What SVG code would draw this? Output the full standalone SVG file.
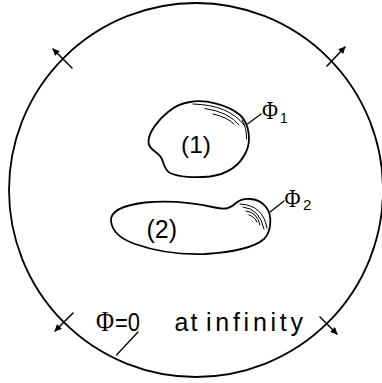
<svg xmlns="http://www.w3.org/2000/svg" width="382" height="383" viewBox="0 0 382 383">
  <style>
    .ln { fill: none; stroke: #000; stroke-linecap: round; stroke-linejoin: round; }
    .outline { stroke-width: 1.8; }
    .hatch { stroke-width: 1; }
    .sans { font-family: "Liberation Sans", Arial, sans-serif; fill: #000; }
    .phi { font-family: "Liberation Serif", "Times New Roman", serif; fill: #000; }
  </style>
  <defs>
    <marker id="ah" viewBox="0 0 10 10" refX="9" refY="5" markerWidth="8" markerHeight="7" markerUnits="userSpaceOnUse" orient="auto">
      <path d="M0,0 L10,5 L0,10 Z" fill="#000"/>
    </marker>
  </defs>
  <rect width="382" height="383" fill="#fff"/>

  <g id="boundary">
    <circle class="ln" cx="196" cy="190" r="187" stroke-width="1.8"/>
  </g>

  <g id="body1">
    <path class="ln outline" d="M190,102 C205,99 228,105 240,115 C250,124 251,142 246,152 C240,165 228,174 210,176.5 C195,178 178,177 170,173 C163,169 164,160 160,156 C156,151 148,149 148.5,141 C149,132 158,120 168,112 C175,106 182,103 190,102 Z"/>
    <path class="ln hatch" d="M193,104 Q229,105 244,125"/>
    <path class="ln hatch" d="M205,108.5 Q229,112 239,125"/>
    <path class="ln hatch" d="M213,114 Q227,117 234,124"/>
    <path class="ln hatch" d="M242,120 Q247,128 246.5,139"/>
    <text class="sans" x="181" y="153" font-size="24.5">(1)</text>
  </g>

  <g id="body2">
    <path class="ln outline" d="M111,221 C110,210 125,205 145,202.5 C170,200 195,203 215,207.5 C226,210 231,208 236,203 C243,197 258,197 266,207 C273,216 271,232 264,239 C255,247 235,252 205,254 C180,255 155,251 135,244 C118,238 112,230 111,221 Z"/>
    <path class="ln hatch" d="M240,204 Q263,205 267,228"/>
    <path class="ln hatch" d="M243,207 Q260,209 264,229"/>
    <path class="ln hatch" d="M246,211 Q257,212 260,225"/>
    <path class="ln hatch" d="M249,215 Q255,217 257,222"/>
    <text class="sans" x="146.5" y="238" font-size="25">(2)</text>
  </g>

  <g id="label-phi1">
    <text class="phi" x="262" y="119" font-size="25" textLength="16" lengthAdjust="spacingAndGlyphs">Φ</text>
    <text class="sans" x="280" y="122.5" font-size="14">1</text>
  </g>

  <g id="label-phi2">
    <text class="phi" x="284.5" y="207" font-size="26" textLength="16" lengthAdjust="spacingAndGlyphs">Φ</text>
    <text class="sans" x="303" y="209.5" font-size="15">2</text>
  </g>

  <g id="label-infinity">
    <text class="sans" y="330.5" font-size="25"><tspan class="phi" x="96" font-size="29" textLength="18" lengthAdjust="spacingAndGlyphs">Φ</tspan><tspan x="115" textLength="25" lengthAdjust="spacingAndGlyphs">=0</tspan></text>
    <text class="sans" x="174.5" y="330.5" font-size="25" textLength="23" lengthAdjust="spacing">at</text>
    <text class="sans" x="206" y="330.5" font-size="25" textLength="97" lengthAdjust="spacing">infinity</text>
  </g>

  <g id="connectors">
    <path class="ln" stroke-width="1.3" d="M247.5,124 L261,114"/>
    <path class="ln" stroke-width="1.3" d="M270,212 L284,201"/>
    <path class="ln" stroke-width="1.3" d="M116.5,355 L138,332"/>
    <path class="ln" stroke-width="1.5" marker-end="url(#ah)" d="M72,68 L53,49"/>
    <path class="ln" stroke-width="1.5" marker-end="url(#ah)" d="M327,66 L345,47"/>
    <path class="ln" stroke-width="1.5" marker-end="url(#ah)" d="M73,313 L55,331"/>
    <path class="ln" stroke-width="1.5" marker-end="url(#ah)" d="M320,317 L337,334"/>
  </g>
</svg>
